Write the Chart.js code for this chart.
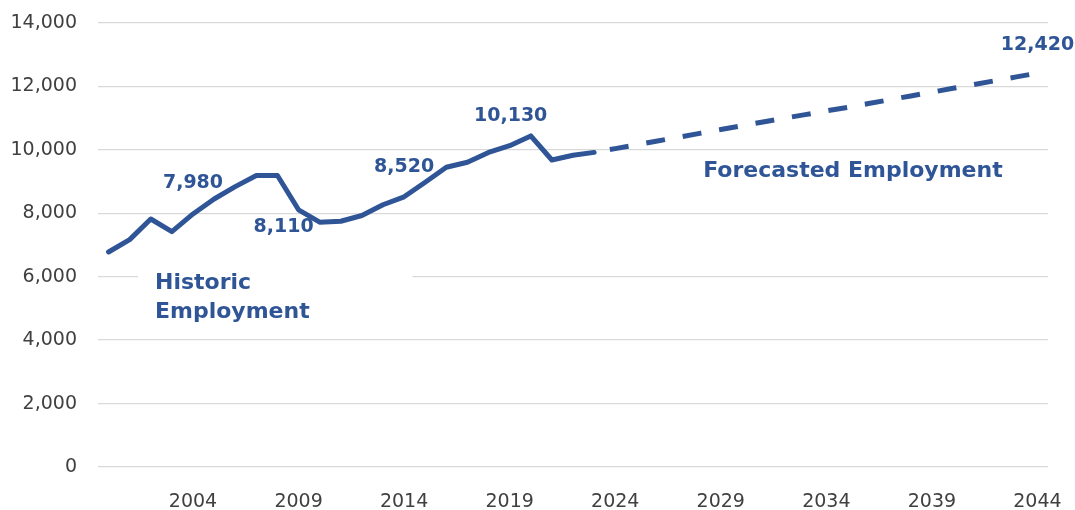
<!DOCTYPE html>
<html>
<head>
<meta charset="utf-8">
<script src="https://cdn.jsdelivr.net/npm/chart.js@4/dist/chart.umd.min.js"></script>
<style>
  html, body { margin: 0; padding: 0; background: #ffffff; }
  #wrap { width: 1075px; height: 510px; }
</style>
</head>
<body>
<div id="wrap"><canvas id="employmentChart" width="1075" height="510"></canvas></div>
<script>
// Years on the x axis
const years = [];
for (let y = 2000; y <= 2044; y++) years.push(String(y));

// Historic employment 2000-2023
const historic = [
    6780, 7170, 7820, 7420, 7980, 8450, 8840, 9190, 9190, 8110,
    7720, 7750, 7930, 8270, 8520, 8980, 9450, 9610, 9920, 10130,
    10440, 9680, 9830, 9920
];

// Forecast employment 2023-2044
const forecast = [
    9920, 10040, 10160, 10280, 10400, 10520, 10640, 10760, 10880, 11000,
    11110, 11230, 11340, 11460, 11580, 11700, 11820, 11940, 12060, 12180,
    12300, 12420
];

// Labelled points
const labelYears = ['2004', '2009', '2014', '2019', '2044'];
const labelTexts = ['7,980', '8,110', '8,520', '10,130', '12,420'];

const yTicks = [0, 2000, 4000, 6000, 8000, 10000, 12000, 14000];

const BLUE = '#2F5597';
const FONT = "'Century Gothic', 'DejaVu Sans', sans-serif";

const historicData = years.map((y, i) => i < historic.length ? historic[i] : null);
const forecastStart = years.indexOf('2023');
const forecastData = years.map((y, i) => i >= forecastStart ? forecast[i - forecastStart] : null);

// Data labels and the two series captions
const annotations = {
    id: 'annotations',
    beforeDatasetsDraw(chart) {
        const { ctx, scales: { x, y } } = chart;
        // white box behind "Historic Employment" covers the gridline
        ctx.save();
        ctx.fillStyle = '#ffffff';
        const bx = x.getPixelForValue(1.40);
        ctx.fillRect(bx, y.getPixelForValue(6400), x.getPixelForValue(14.4) - bx, y.getPixelForValue(4400) - y.getPixelForValue(6400));
        ctx.restore();
    },
    afterDatasetsDraw(chart) {
        const { ctx, scales: { x, y } } = chart;
        ctx.save();
        ctx.fillStyle = BLUE;
        ctx.textBaseline = 'middle';
        ctx.textAlign = 'center';

        ctx.font = "bold 19px " + FONT;
        const offsets = [[0, -31], [-15, 17], [0, -30], [1, -30], [0, -28]];
        labelYears.forEach((yr, i) => {
            const idx = years.indexOf(yr);
            const val = idx < historic.length ? historic[idx] : forecast[idx - forecastStart];
            ctx.fillText(labelTexts[i], x.getPixelForValue(idx) + offsets[i][0], y.getPixelForValue(val) + offsets[i][1]);
        });

        ctx.font = "bold 22px " + FONT;
        ctx.fillText('Forecasted Employment', x.getPixelForValue(35.26), y.getPixelForValue(9330));

        ctx.textAlign = 'left';
        ctx.fillText('Historic', x.getPixelForValue(2.2), y.getPixelForValue(5780));
        ctx.fillText('Employment', x.getPixelForValue(2.2), y.getPixelForValue(4870));
        ctx.restore();
    }
};

const ctx = document.getElementById('employmentChart').getContext('2d');
new Chart(ctx, {
    type: 'line',
    data: {
        labels: years,
        datasets: [
            {
                label: 'Historic Employment',
                data: historicData,
                borderColor: BLUE,
                borderWidth: 5,
                borderJoinStyle: 'round',
                borderCapStyle: 'round',
                pointRadius: 0,
                tension: 0
            },
            {
                label: 'Forecasted Employment',
                data: forecastData,
                borderColor: BLUE,
                borderWidth: 5,
                borderDash: [19, 18],
                borderDashOffset: 21,
                borderCapStyle: 'butt',
                pointRadius: 0,
                tension: 0
            }
        ]
    },
    options: {
        responsive: false,
        animation: false,
        layout: { padding: { top: 23, right: 27, left: 0, bottom: 0 } },
        plugins: {
            legend: { display: false },
            tooltip: { enabled: false }
        },
        scales: {
            x: {
                offset: true,
                grid: { display: false },
                border: { display: false },
                afterFit(scale) {
                    scale.height = 43;
                    scale.paddingLeft = 0;
                    scale.paddingRight = 0;
                },
                ticks: {
                    autoSkip: false,
                    maxRotation: 0,
                    padding: 16,
                    color: '#404040',
                    font: { family: FONT, size: 19 },
                    callback(value) {
                        const yr = Number(this.getLabelForValue(value));
                        return (yr - 2004) % 5 === 0 ? String(yr) : '';
                    }
                }
            },
            y: {
                min: 0,
                max: 14000,
                afterFit(scale) {
                    scale.width = 98;
                    scale.paddingTop = 0;
                    scale.paddingBottom = 0;
                },
                afterBuildTicks(scale) { scale.ticks = yTicks.map(v => ({ value: v })); },
                grid: { color: '#D9D9D9', lineWidth: 1.3, drawTicks: false },
                border: { display: false },
                ticks: {
                    padding: 21,
                    color: '#404040',
                    font: { family: FONT, size: 19 },
                    callback: v => v.toLocaleString('en-US')
                }
            }
        }
    },
    plugins: [annotations]
});
</script>
</body>
</html>
